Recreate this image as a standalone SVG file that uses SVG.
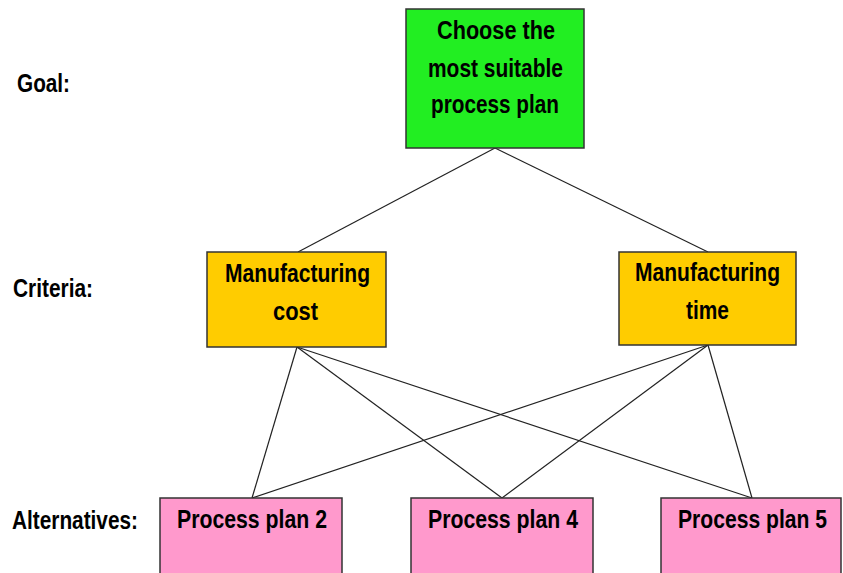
<svg xmlns="http://www.w3.org/2000/svg" width="843" height="573" viewBox="0 0 843 573">
<style>
.box{stroke:#333;stroke-width:1.5}
.t{font-family:"Liberation Sans",Arial,sans-serif;font-weight:bold;font-size:26px;fill:#000;text-anchor:middle}
.lbl{font-family:"Liberation Sans",Arial,sans-serif;font-weight:bold;font-size:25px;fill:#000}
.c line{stroke:#222;stroke-width:1.2}
</style>
<rect width="843" height="573" fill="#fff"/>
<g id="labels">
<text class="lbl" x="17" y="92" textLength="53" lengthAdjust="spacingAndGlyphs">Goal:</text>
<text class="lbl" x="13" y="297" textLength="80" lengthAdjust="spacingAndGlyphs">Criteria:</text>
<text class="lbl" x="12" y="529" textLength="126" lengthAdjust="spacingAndGlyphs">Alternatives:</text>
</g>
<g class="c" id="connectors">
<line x1="495" y1="148" x2="298" y2="252"/>
<line x1="495" y1="148" x2="708" y2="252"/>
<line x1="297" y1="347" x2="252" y2="498"/>
<line x1="297" y1="347" x2="502" y2="498"/>
<line x1="297" y1="347" x2="752" y2="498"/>
<line x1="708" y1="345" x2="252" y2="498"/>
<line x1="708" y1="345" x2="502" y2="498"/>
<line x1="708" y1="345" x2="752" y2="498"/>
</g>
<g id="goal">
<rect class="box" x="406" y="9" width="178" height="139" fill="#22ee22"/>
<text class="t" x="496" y="39" textLength="118" lengthAdjust="spacingAndGlyphs">Choose the</text>
<text class="t" x="495.5" y="77" textLength="135" lengthAdjust="spacingAndGlyphs">most suitable</text>
<text class="t" x="495" y="113" textLength="128" lengthAdjust="spacingAndGlyphs">process plan</text>
</g>
<g id="cost">
<rect class="box" x="207" y="252" width="179" height="95" fill="#ffcc00"/>
<text class="t" x="297.5" y="282" textLength="145" lengthAdjust="spacingAndGlyphs">Manufacturing</text>
<text class="t" x="295.5" y="320" textLength="45" lengthAdjust="spacingAndGlyphs">cost</text>
</g>
<g id="time">
<rect class="box" x="619" y="252" width="177" height="93" fill="#ffcc00"/>
<text class="t" x="707.5" y="281" textLength="145" lengthAdjust="spacingAndGlyphs">Manufacturing</text>
<text class="t" x="707.5" y="319" textLength="43" lengthAdjust="spacingAndGlyphs">time</text>
</g>
<g id="pp2">
<rect class="box" x="160" y="498" width="182" height="80" fill="#ff99cc"/>
<text class="t" x="252" y="528" textLength="150" lengthAdjust="spacingAndGlyphs">Process plan 2</text>
</g>
<g id="pp4">
<rect class="box" x="411" y="498" width="182" height="80" fill="#ff99cc"/>
<text class="t" x="503" y="528" textLength="150" lengthAdjust="spacingAndGlyphs">Process plan 4</text>
</g>
<g id="pp5">
<rect class="box" x="661" y="498" width="180" height="80" fill="#ff99cc"/>
<text class="t" x="752.5" y="528" textLength="149" lengthAdjust="spacingAndGlyphs">Process plan 5</text>
</g>
</svg>
